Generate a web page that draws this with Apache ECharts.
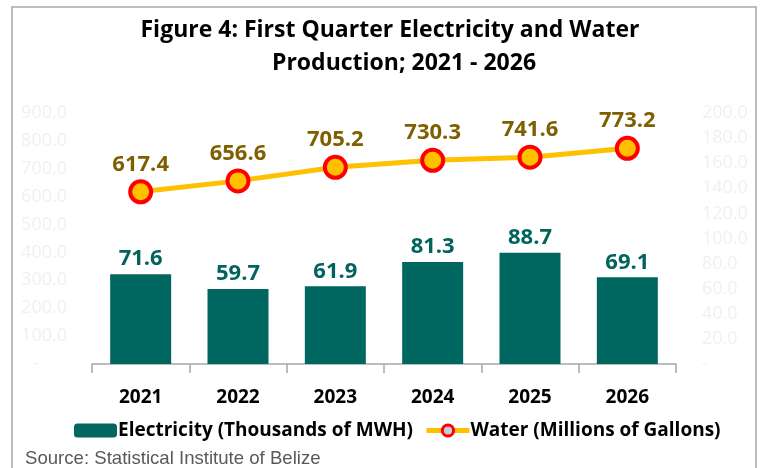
<!DOCTYPE html>
<html>
<head>
<meta charset="utf-8">
<script src="https://cdn.jsdelivr.net/npm/echarts@6/dist/echarts.min.js"></script>
<style>
  html, body { margin: 0; padding: 0; background: #fff; }
  #main { width: 762px; height: 468px; }
</style>
</head>
<body>
<div id="main"></div>
<script>
var years = ['2021', '2022', '2023', '2024', '2025', '2026'];
var electricity = [71.6, 59.7, 61.9, 81.3, 88.7, 69.1];
var water = [617.4, 656.6, 705.2, 730.3, 741.6, 773.2];

var font = 'Open Sans';
var myChart = echarts.init(document.getElementById('main'));

var titleStyle = { fontFamily: font, fontWeight: 'bold', fontSize: 23, color: '#000' };

var option = {
    backgroundColor: '#fff',
    animation: false,
    title: [
        { text: 'Figure 4: First Quarter Electricity and Water', left: 385, textAlign: 'center', top: 14, textStyle: titleStyle },
        { text: 'Production; 2021 - 2026', left: 399, textAlign: 'center', top: 47, textStyle: titleStyle }
    ],
    grid: { left: 92, right: 86, top: 113, bottom: 104, containLabel: false },
    legend: {
        left: 74,
        top: 421,
        padding: 0,
        itemWidth: 43,
        itemHeight: 14,
        itemGap: 11,
        textStyle: { fontFamily: font, fontWeight: 'bold', fontSize: 19, color: '#000', padding: [0, 0, 0, -4] },
        data: [
            { name: 'Electricity (Thousands of MWH)' },
            {
                name: 'Water (Millions of Gallons)',
                itemStyle: { color: '#C5CDE0', borderColor: '#FF0000', borderWidth: 3 },
                lineStyle: { color: '#FFC000', width: 5 }
            }
        ]
    },
    xAxis: {
        type: 'category',
        data: years,
        axisLine: { lineStyle: { color: '#a6a6a6', width: 1.5 } },
        axisTick: { show: true, length: 9, lineStyle: { color: '#a6a6a6', width: 1.5 } },
        axisLabel: { fontFamily: font, fontWeight: 'bold', fontSize: 19, color: '#000', margin: 24 }
    },
    yAxis: [
        {
            type: 'value', min: 0, max: 900, interval: 100,
            splitLine: { show: false },
            axisLine: { show: false },
            axisTick: { show: false },
            axisLabel: {
                fontFamily: font, fontSize: 18, color: '#f0f0f0', margin: 25,
                formatter: function (v) { return v === 0 ? '-      ' : v.toFixed(1); }
            }
        },
        {
            type: 'value', min: 0, max: 200, interval: 20,
            splitLine: { show: false },
            axisLine: { show: false },
            axisTick: { show: false },
            axisLabel: {
                fontFamily: font, fontSize: 18, color: '#f0f0f0', margin: 26,
                formatter: function (v) { return v === 0 ? '-' : v.toFixed(1); }
            }
        }
    ],
    series: [
        {
            name: 'Electricity (Thousands of MWH)',
            type: 'bar',
            yAxisIndex: 1,
            data: electricity,
            barWidth: 61,
            itemStyle: { color: '#006660' },
            label: {
                show: true, position: 'top', distance: 4,
                fontFamily: font, fontWeight: 'bold', fontSize: 22, color: '#00635D',
                formatter: function (p) { return p.value.toFixed(1); }
            }
        },
        {
            name: 'Water (Millions of Gallons)',
            type: 'line',
            yAxisIndex: 0,
            data: water,
            z: 5,
            symbol: 'circle',
            symbolSize: 21,
            lineStyle: { color: '#FFC000', width: 5 },
            itemStyle: { color: '#FFC000', borderColor: '#FF0000', borderWidth: 4 },
            label: {
                show: true, position: 'top', distance: 4,
                fontFamily: font, fontWeight: 'bold', fontSize: 22, color: '#7F6000',
                formatter: function (p) { return p.value.toFixed(1); }
            }
        }
    ],
    graphic: [
        {
            type: 'rect',
            silent: true,
            shape: { x: 12, y: 7, width: 744, height: 480 },
            style: { fill: 'none', stroke: '#bdbdbd', lineWidth: 2 }
        },
        {
            type: 'text',
            left: 25,
            top: 449,
            style: { text: 'Source: Statistical Institute of Belize', fontFamily: 'Liberation Sans', fontSize: 18.6, fill: '#595959' }
        }
    ]
};

myChart.setOption(option);
</script>
</body>
</html>
